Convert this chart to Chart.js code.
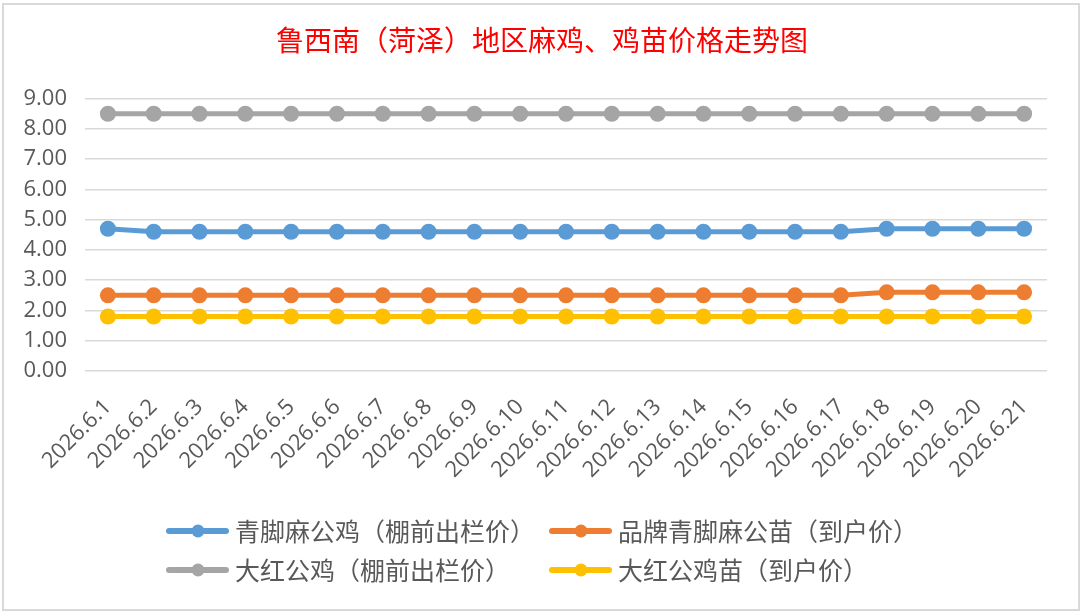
<!DOCTYPE html>
<html>
<head>
<meta charset="utf-8">
<script src="https://cdn.jsdelivr.net/npm/chart.js@4"></script>
<style>
  html, body { margin: 0; padding: 0; background: #fff; }
  #wrap { width: 1084px; height: 615px; }
</style>
</head>
<body>
<div id="wrap"><canvas id="chart" width="1084" height="615"></canvas></div>
<script>
const chartTitle = "鲁西南（菏泽）地区麻鸡、鸡苗价格走势图";
const dates = ["2026.6.1", "2026.6.2", "2026.6.3", "2026.6.4", "2026.6.5", "2026.6.6", "2026.6.7",
  "2026.6.8", "2026.6.9", "2026.6.10", "2026.6.11", "2026.6.12", "2026.6.13", "2026.6.14",
  "2026.6.15", "2026.6.16", "2026.6.17", "2026.6.18", "2026.6.19", "2026.6.20", "2026.6.21"];
const seriesNames = ["青脚麻公鸡（棚前出栏价）", "品牌青脚麻公苗（到户价）", "大红公鸡（棚前出栏价）", "大红公鸡苗（到户价）"];
const qingjiaoRooster = [4.7, 4.6, 4.6, 4.6, 4.6, 4.6, 4.6, 4.6, 4.6, 4.6, 4.6, 4.6, 4.6, 4.6, 4.6, 4.6, 4.6, 4.7, 4.7, 4.7, 4.7];
const qingjiaoChick = [2.5, 2.5, 2.5, 2.5, 2.5, 2.5, 2.5, 2.5, 2.5, 2.5, 2.5, 2.5, 2.5, 2.5, 2.5, 2.5, 2.5, 2.6, 2.6, 2.6, 2.6];
const dahongRooster = [8.5, 8.5, 8.5, 8.5, 8.5, 8.5, 8.5, 8.5, 8.5, 8.5, 8.5, 8.5, 8.5, 8.5, 8.5, 8.5, 8.5, 8.5, 8.5, 8.5, 8.5];
const dahongChick = [1.8, 1.8, 1.8, 1.8, 1.8, 1.8, 1.8, 1.8, 1.8, 1.8, 1.8, 1.8, 1.8, 1.8, 1.8, 1.8, 1.8, 1.8, 1.8, 1.8, 1.8];
const colors = ["#5B9BD5", "#ED7D31", "#A5A5A5", "#FFC000"];

const textGrey = "#595959";

function makeSet(i, values) {
  return {
    label: seriesNames[i],
    data: values,
    borderColor: colors[i],
    backgroundColor: colors[i],
    borderWidth: 5,
    pointRadius: 8,
    pointHoverRadius: 8,
    pointBorderWidth: 0,
    tension: 0,
  };
}

// frame round the chart
const framePlugin = {
  id: "frame",
  beforeDraw(chart) {
    const ctx = chart.ctx;
    ctx.save();
    ctx.fillStyle = "#fff";
    ctx.fillRect(0, 0, chart.width, chart.height);
    ctx.strokeStyle = "#d9d9d9";
    ctx.lineWidth = 2;
    ctx.strokeRect(3, 4, 1076, 606);
    ctx.restore();
  },
};

// two-column legend like the original
const legendPlugin = {
  id: "gridLegend",
  afterDraw(chart) {
    const ctx = chart.ctx;
    const cols = [167, 550];
    const rows = [531, 570];
    ctx.save();
    chart.data.datasets.forEach((ds, i) => {
      const x = cols[i % 2];
      const y = rows[Math.floor(i / 2)];
      ctx.strokeStyle = ds.borderColor;
      ctx.lineWidth = 6;
      ctx.lineCap = "round";
      ctx.beginPath();
      ctx.moveTo(x + 2, y);
      ctx.lineTo(x + 59, y);
      ctx.stroke();
      ctx.fillStyle = ds.borderColor;
      ctx.beginPath();
      ctx.arc(x + 31, y, 6.5, 0, Math.PI * 2);
      ctx.fill();
      ctx.fillStyle = textGrey;
      ctx.font = "25px 'Noto Sans CJK SC'";
      ctx.textBaseline = "middle";
      ctx.textAlign = "left";
      ctx.fillText(ds.label, x + 68, y);
    });
    ctx.restore();
  },
};

new Chart(document.getElementById("chart"), {
  type: "line",
  data: {
    labels: dates,
    datasets: [
      makeSet(0, qingjiaoRooster),
      makeSet(1, qingjiaoChick),
      makeSet(2, dahongRooster),
      makeSet(3, dahongChick),
    ],
  },
  options: {
    responsive: false,
    animation: false,
    layout: { padding: { left: 0, right: 0, top: 0, bottom: 124 } },
    plugins: {
      legend: { display: false },
      tooltip: { enabled: false },
      title: {
        display: true,
        text: chartTitle,
        color: "#FF0000",
        font: { family: "'Noto Sans CJK SC'", size: 28, weight: "normal", lineHeight: 1.2 },
        padding: { top: 24, bottom: 41 },
      },
    },
    scales: {
      x: {
        offset: true,
        grid: { display: false },
        border: { display: false },
        ticks: {
          color: textGrey,
          font: { family: "'Open Sans'", size: 22 },
          maxRotation: 45,
          minRotation: 45,
          autoSkip: false,
          padding: 15,
        },
        afterFit(scale) { scale.height = 120; },
      },
      y: {
        min: 0,
        max: 9,
        grid: { color: "#d9d9d9", lineWidth: 1.5, drawTicks: false },
        border: { display: false },
        ticks: {
          stepSize: 1,
          color: textGrey,
          font: { family: "'Open Sans'", size: 22 },
          padding: 18,
          callback: (v) => v.toFixed(2),
        },
        afterFit(scale) { scale.width = 85; },
      },
      // empty right-hand axis, only keeps the plot off the right edge
      spacer: {
        type: "linear",
        position: "right",
        grid: { display: false },
        border: { display: false },
        ticks: { display: false },
        afterFit(scale) { scale.width = 37; },
      },
    },
  },
  plugins: [framePlugin, legendPlugin],
});
</script>
</body>
</html>
